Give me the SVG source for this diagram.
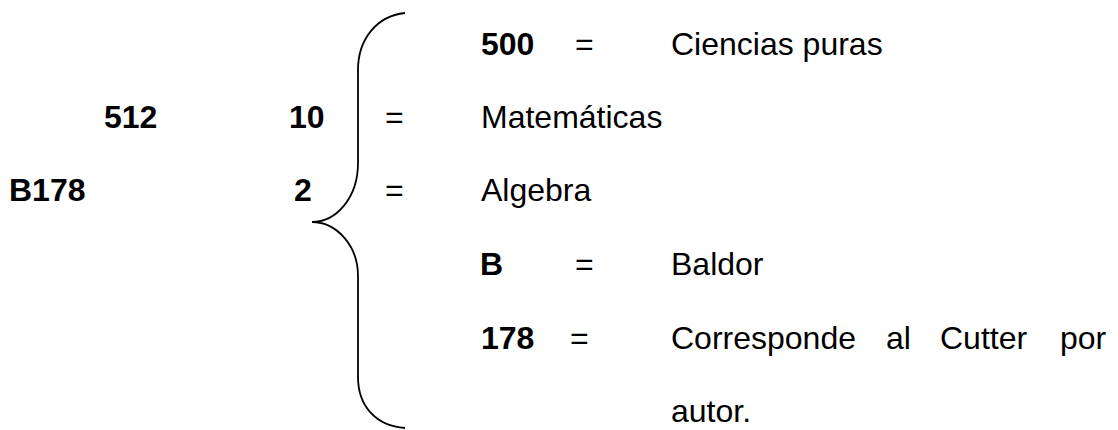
<svg xmlns="http://www.w3.org/2000/svg" width="1118" height="430" viewBox="0 0 1118 430">
<style>
text{font-family:"Liberation Sans",Arial,sans-serif;font-size:32px;fill:#000}
.b{font-weight:bold}
.brace{fill:none;stroke:#000;stroke-width:1.8}
</style>
<rect width="1118" height="430" fill="#fff"/>
<g id="connectors">
<path class="brace" d="M405,13 C376,16 358,40 358,70 L358,163 C358,198 336,222 312,222 C336,222 358,245 358,276 L358,377 C358,406 376,426 405,428"/>
</g>
<g id="left">
<text class="b" x="104" y="128">512</text>
<text class="b" x="9" y="201">B178</text>
<text class="b" x="289" y="128">10</text>
<text class="b" x="294" y="201">2</text>
</g>
<g id="row-500">
<text class="b" x="481" y="55">500</text>
<text x="575" y="55">=</text>
<text x="671" y="55">Ciencias puras</text>
</g>
<g id="row-mat">
<text x="385" y="128">=</text>
<text x="481" y="128">Matemáticas</text>
</g>
<g id="row-alg">
<text x="385" y="201">=</text>
<text x="481" y="201">Algebra</text>
</g>
<g id="row-b">
<text class="b" x="480" y="275">B</text>
<text x="575" y="275">=</text>
<text x="671" y="275">Baldor</text>
</g>
<g id="row-178">
<text class="b" x="481" y="349">178</text>
<text x="570" y="349">=</text>
<text x="671" y="349">Corresponde</text>
<text x="886" y="349">al</text>
<text x="940" y="349">Cutter</text>
<text x="1060" y="349">por</text>
<text x="671" y="422">autor.</text>
</g>
</svg>
